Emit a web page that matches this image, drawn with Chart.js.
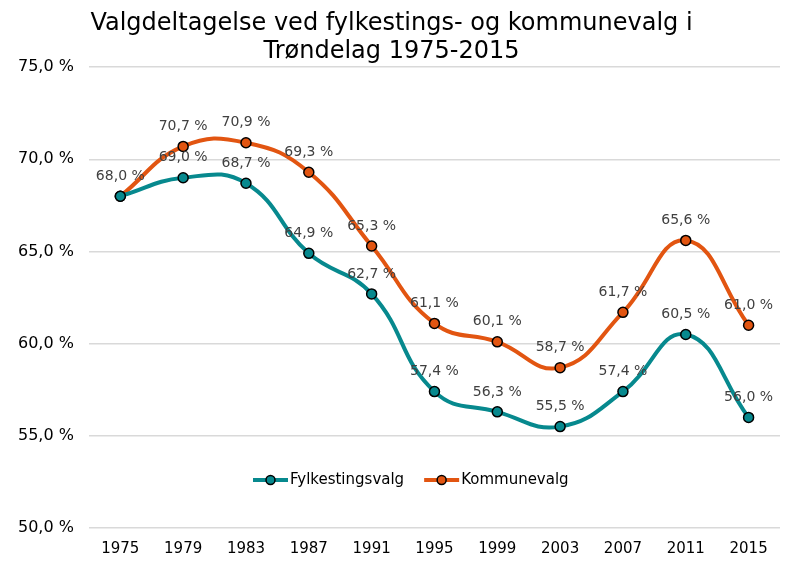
<!DOCTYPE html>
<html>
<head>
<meta charset="utf-8">
<script src="https://cdn.jsdelivr.net/npm/chart.js@4.4.1/dist/chart.umd.min.js"></script>
<style>
  html, body { margin: 0; padding: 0; background: #fff; }
  #wrap { width: 800px; height: 580px; }
</style>
</head>
<body>
<div id="wrap"><canvas id="c" width="800" height="580"></canvas></div>
<script>
// --- DADOS ---
const years = ['1975', '1979', '1983', '1987', '1991', '1995', '1999', '2003', '2007', '2011', '2015'];
const fylkesting = [68.0, 69.0, 68.7, 64.9, 62.7, 57.4, 56.3, 55.5, 57.4, 60.5, 56.0];
const kommune = [68.0, 70.7, 70.9, 69.3, 65.3, 61.1, 60.1, 58.7, 61.7, 65.6, 61.0];
const yTicks = [50, 55, 60, 65, 70, 75];

const TEAL = '#07898E';
const ORANGE = '#E25511';
const FONT = '"DejaVu Sans", Verdana, sans-serif';

const fmt = v => v.toFixed(1).replace('.', ',') + ' %';

// value labels above the points
const valueLabels = {
    id: 'valueLabels',
    afterDatasetsDraw(chart) {
        const ctx = chart.ctx;
        ctx.save();
        ctx.font = '14px ' + FONT;
        ctx.fillStyle = '#404040';
        ctx.textAlign = 'center';
        ctx.textBaseline = 'middle';
        chart.data.datasets.forEach((ds, di) => {
            const meta = chart.getDatasetMeta(di);
            meta.data.forEach((pt, i) => {
                // same value on both series: write it once
                if (di === 0 && ds.data[i] === chart.data.datasets[1].data[i]) return;
                ctx.fillText(fmt(ds.data[i]), pt.x, pt.y - 20);
            });
        });
        ctx.restore();
    }
};

// legend inside the plot, near the bottom (line + dot + name)
const insideLegend = {
    id: 'insideLegend',
    afterDraw(chart) {
        const ctx = chart.ctx;
        const y = 480;
        let x = 253;
        ctx.save();
        ctx.font = '15px ' + FONT;
        ctx.textBaseline = 'middle';
        chart.data.datasets.forEach(ds => {
            const c = ds.borderColor;
            ctx.strokeStyle = c;
            ctx.lineWidth = 4;
            ctx.beginPath(); ctx.moveTo(x, y); ctx.lineTo(x + 35, y); ctx.stroke();
            ctx.beginPath(); ctx.arc(x + 17.5, y, 4.5, 0, Math.PI * 2);
            ctx.fillStyle = c; ctx.fill();
            ctx.lineWidth = 1.5; ctx.strokeStyle = '#000'; ctx.stroke();
            ctx.fillStyle = '#000';
            ctx.fillText(ds.label, x + 37, y);
            x += 37 + ctx.measureText(ds.label).width + 20;
        });
        ctx.restore();
    }
};

new Chart(document.getElementById('c'), {
    type: 'line',
    data: {
        labels: years,
        datasets: [{
            label: 'Fylkestingsvalg',
            data: fylkesting,
            borderColor: TEAL,
            backgroundColor: TEAL,
            pointBackgroundColor: TEAL,
            pointBorderColor: '#000',
            pointBorderWidth: 1.5,
            pointRadius: 5,
            borderWidth: 4,
            tension: 0.45
        }, {
            label: 'Kommunevalg',
            data: kommune,
            borderColor: ORANGE,
            backgroundColor: ORANGE,
            pointBackgroundColor: ORANGE,
            pointBorderColor: '#000',
            pointBorderWidth: 1.5,
            pointRadius: 5,
            borderWidth: 4,
            tension: 0.45
        }]
    },
    options: {
        responsive: false,
        animation: false,
        layout: { padding: { left: 3, right: 20, top: 0, bottom: 18 } },
        plugins: {
            title: {
                display: true,
                text: ['Valgdeltagelse ved fylkestings- og kommunevalg i', 'Trøndelag 1975-2015'],
                color: '#000',
                font: { family: FONT, size: 24, weight: 'normal', lineHeight: 1.17 },
                padding: { top: 10, bottom: 1 }
            },
            legend: { display: false },
            tooltip: { enabled: false }
        },
        scales: {
            x: {
                offset: true,
                grid: { display: false },
                border: { display: false },
                ticks: {
                    color: '#000',
                    padding: 4,
                    font: { family: FONT, size: 15 }
                }
            },
            y: {
                min: 50,
                max: 75,
                afterBuildTicks(axis) { axis.ticks = yTicks.map(v => ({ value: v })); },
                grid: { color: '#d9d9d9', lineWidth: 1.5, drawTicks: false },
                border: { display: false },
                ticks: {
                    color: '#000',
                    padding: 15,
                    font: { family: FONT, size: 16 },
                    callback: v => fmt(v)
                }
            }
        }
    },
    plugins: [valueLabels, insideLegend]
});
</script>
</body>
</html>
